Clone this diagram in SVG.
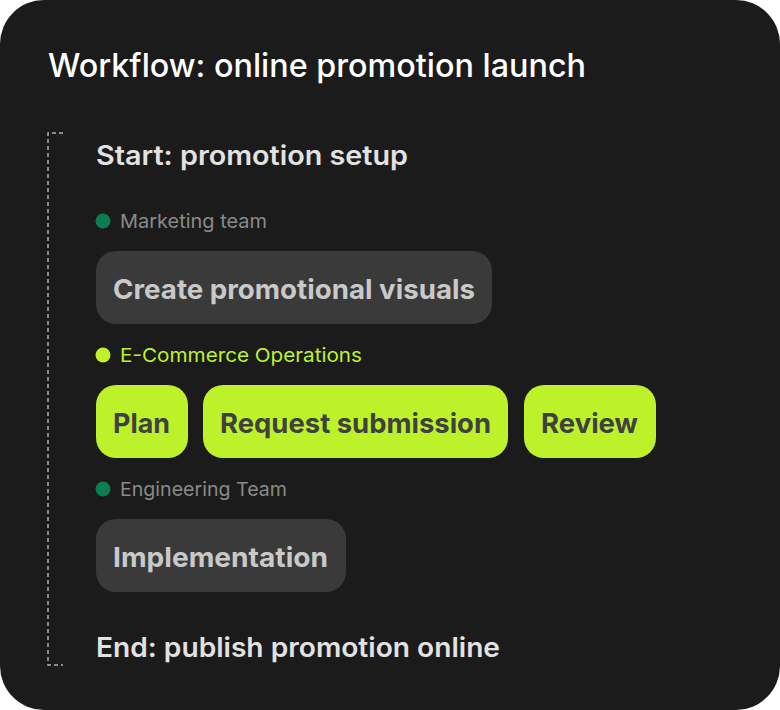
<svg xmlns="http://www.w3.org/2000/svg" width="780" height="710" viewBox="0 0 780 710">
<style>
.t{font-family:Inter,"Liberation Sans",sans-serif;}
.title{font-size:32px;font-weight:500;fill:#ffffff}
.se{font-size:27px;font-weight:600;fill:#e2e2e2}
.lg{font-size:19px;font-weight:400}
.nt{font-size:27.5px;font-weight:700}
.gray rect{fill:#3a3a3a}
.gray text{fill:#c9c9c9}
.lime rect{fill:#bdf22b}
.lime text{fill:#404040}
</style>
<rect x="0" y="0" width="780" height="710" fill="#ffffff"/>
<rect x="0" y="0" width="780" height="710" rx="44" fill="#1b1b1b"/>
<text class="t title" x="48" y="77" textLength="538" lengthAdjust="spacingAndGlyphs">Workflow: online promotion launch</text>
<g id="connectors">
<path d="M63 133 H48 V665 H63" fill="none" stroke="#b0b0b0" stroke-width="1.5" stroke-dasharray="4 3"/>
</g>
<g id="start"><text class="t se" x="96" y="165" textLength="312" lengthAdjust="spacingAndGlyphs">Start: promotion setup</text></g>
<g id="lane-marketing">
<circle cx="103" cy="221" r="7.5" fill="#0a7d52"/>
<text class="t lg" x="120" y="228" fill="#8a8a8a" textLength="147" lengthAdjust="spacingAndGlyphs">Marketing team</text>
</g>
<g id="node-create" class="gray">
<rect x="96" y="251" width="396" height="73" rx="20"/>
<text class="t nt" x="113" y="299" textLength="362" lengthAdjust="spacingAndGlyphs">Create promotional visuals</text>
</g>
<g id="lane-ecommerce">
<circle cx="103" cy="355" r="7.5" fill="#bdf22b"/>
<text class="t lg" x="120" y="362" fill="#bdf22b" textLength="242" lengthAdjust="spacingAndGlyphs">E-Commerce Operations</text>
</g>
<g id="node-plan" class="lime">
<rect x="96" y="385" width="92" height="73" rx="20"/>
<text class="t nt" x="113" y="433" textLength="57" lengthAdjust="spacingAndGlyphs">Plan</text>
</g>
<g id="node-request" class="lime">
<rect x="203" y="385" width="305" height="73" rx="20"/>
<text class="t nt" x="220" y="433" textLength="271" lengthAdjust="spacingAndGlyphs">Request submission</text>
</g>
<g id="node-review" class="lime">
<rect x="524" y="385" width="132" height="73" rx="20"/>
<text class="t nt" x="541" y="433" textLength="97" lengthAdjust="spacingAndGlyphs">Review</text>
</g>
<g id="lane-engineering">
<circle cx="103" cy="489" r="7.5" fill="#0a7d52"/>
<text class="t lg" x="120" y="496" fill="#8a8a8a" textLength="167" lengthAdjust="spacingAndGlyphs">Engineering Team</text>
</g>
<g id="node-implementation" class="gray">
<rect x="96" y="519" width="250" height="73" rx="20"/>
<text class="t nt" x="113" y="567" textLength="215" lengthAdjust="spacingAndGlyphs">Implementation</text>
</g>
<g id="end"><text class="t se" x="96" y="657" textLength="404" lengthAdjust="spacingAndGlyphs">End: publish promotion online</text></g>
</svg>
